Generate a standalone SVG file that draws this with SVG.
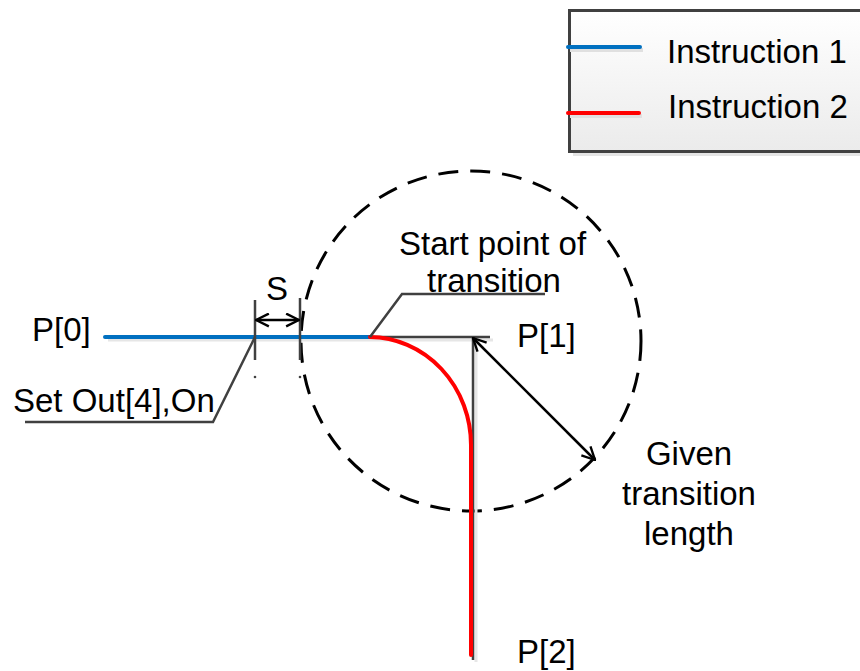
<svg xmlns="http://www.w3.org/2000/svg" width="860" height="671" viewBox="0 0 860 671">
<style>
text{font-family:"Liberation Sans",Arial,sans-serif;font-size:33px;fill:#000}
.lead{stroke:#404040;stroke-width:2.5;fill:none}
.shadow{stroke:#e6e6e6;stroke-width:3;fill:none}
.arr{stroke:#000;stroke-width:2.5;fill:none}
</style>
<defs>
<linearGradient id="lg" x1="0" y1="0" x2="0" y2="1">
<stop offset="0" stop-color="#ffffff"/>
<stop offset="1" stop-color="#ebebeb"/>
</linearGradient>
<marker id="ah" viewBox="0 0 14 14" refX="13" refY="7" markerWidth="15" markerHeight="15" markerUnits="userSpaceOnUse" orient="auto-start-reverse">
<path d="M1,1 L13,7 L1,13" fill="none" stroke="#000" stroke-width="2.2"/>
</marker>
</defs>
<rect width="860" height="671" fill="#fff"/>

<g id="legend">
<rect x="573" y="14" width="300" height="142" fill="#e4e4e4"/>
<rect x="569.5" y="10.5" width="300" height="141" fill="url(#lg)" stroke="#404040" stroke-width="3"/>
<line x1="570" y1="50" x2="643" y2="50" stroke="#e0e0e0" stroke-width="4"/>
<line x1="568" y1="47" x2="640" y2="47" stroke="#0070C0" stroke-width="4" stroke-linecap="round"/>
<text x="667" y="63">Instruction 1</text>
<line x1="570" y1="116" x2="642" y2="116" stroke="#e0e0e0" stroke-width="4"/>
<line x1="568" y1="113" x2="639" y2="113" stroke="#FF0000" stroke-width="4" stroke-linecap="round"/>
<text x="668" y="118">Instruction 2</text>
</g>

<g id="circle">
<circle cx="471" cy="341" r="170" fill="none" stroke="#000" stroke-width="3" stroke-dasharray="20 12"/>
</g>

<g id="connectors">
<line class="shadow" x1="108" y1="340" x2="493" y2="340"/>
<line class="shadow" x1="476" y1="340" x2="476" y2="662"/>
<line x1="105" y1="337" x2="370" y2="337" stroke="#0070C0" stroke-width="4" stroke-linecap="round"/>
<line class="lead" x1="370" y1="337" x2="490" y2="337" stroke-width="3"/>
<line class="lead" x1="473" y1="337" x2="473" y2="660" stroke-width="3"/>
<path d="M370,337 A102,108 0 0 1 471,445 L471,655" fill="none" stroke="#FF0000" stroke-width="4" stroke-linecap="round"/>
<polyline class="lead" points="255,337 213,422 25,422"/>
<polyline class="lead" points="370,337 402,294 545,294"/>
<line class="lead" x1="255" y1="300" x2="255" y2="360" stroke-width="3"/>
<line class="lead" x1="300" y1="298" x2="300" y2="360" stroke-width="3"/>
<circle cx="255" cy="377" r="1.3" fill="#404040"/>
<circle cx="300" cy="377" r="1.3" fill="#404040"/>
<line class="arr" x1="256" y1="320" x2="299" y2="320" marker-start="url(#ah)" marker-end="url(#ah)"/>
<line class="arr" x1="473" y1="338" x2="595" y2="460" marker-start="url(#ah)" marker-end="url(#ah)"/>
</g>

<g id="labels">
<text x="32" y="341">P[0]</text>
<text x="13" y="412">Set Out[4],On</text>
<text x="266" y="300">S</text>
<text x="399" y="255">Start point of</text>
<text x="427" y="292">transition</text>
<text x="517" y="347">P[1]</text>
<text x="689" y="465" text-anchor="middle">Given</text>
<text x="689" y="505" text-anchor="middle">transition</text>
<text x="689" y="545" text-anchor="middle">length</text>
<text x="517" y="663">P[2]</text>
</g>
</svg>
